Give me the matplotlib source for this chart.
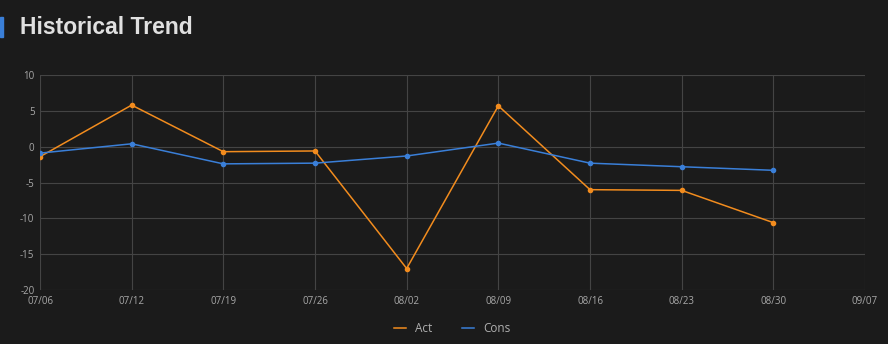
import matplotlib
matplotlib.use("Agg")
import matplotlib.pyplot as plt
from matplotlib.patches import Rectangle

plt.rcParams["axes.unicode_minus"] = False

dates = ["07/06", "07/12", "07/19", "07/26", "08/02", "08/09", "08/16", "08/23", "08/30", "09/07"]
act = [-1.4, 5.8, -0.7, -0.6, -17.0, 5.7, -6.0, -6.1, -10.6]
cons = [-0.9, 0.4, -2.4, -2.3, -1.3, 0.5, -2.3, -2.8, -3.3]
yticks = [10, 5, 0, -5, -10, -15, -20]

bg = "#1b1b1b"
fig = plt.figure(figsize=(8.88, 3.44), dpi=100, facecolor=bg)
W, H = 888, 344
ax = fig.add_axes([40 / W, (H - 290) / H, (865 - 40) / W, (290 - 75) / H], facecolor=bg)

x = list(range(len(dates)))
ax.plot(x[:len(act)], act, color="#f28c1e", lw=1.1, marker="o", ms=3, label="Act")
ax.plot(x[:len(cons)], cons, color="#3a7fd8", lw=1.1, marker="o", ms=3, label="Cons")

ax.set_xlim(0, len(dates) - 1)
ax.set_ylim(-20, 10)
ax.set_xticks(x)
ax.set_xticklabels(dates)
ax.set_yticks(yticks)
ax.grid(True, color="#444444", lw=0.8)
ax.set_axisbelow(True)
for s in ax.spines.values():
    s.set_visible(False)
ax.tick_params(colors="#9a9a9a", labelsize=7, length=0, pad=4)
for lab in ax.get_xticklabels() + ax.get_yticklabels():
    lab.set_color("#a8a8a8")
    lab.set_family("Open Sans")

leg = ax.legend(loc="upper center", bbox_to_anchor=(0.5, -0.1), ncol=2, frameon=False,
                fontsize=8.5, labelcolor="#b0b0b0", handlelength=1.0, columnspacing=2.5,
                prop={"family": "Open Sans", "size": 8.5})
for h in leg.legend_handles:
    h.set_marker("")

fig.patches.append(Rectangle((0, (H - 37) / H), 3 / W, 20 / H, transform=fig.transFigure,
                             color="#3a7fd8", zorder=5))
fig.text(20 / W, (H - 27) / H, "Historical Trend", color="#e0e0e0", fontsize=16.5,
         fontweight="bold", va="center", ha="left", family="Liberation Sans")

fig.savefig("out.png", facecolor=bg)
